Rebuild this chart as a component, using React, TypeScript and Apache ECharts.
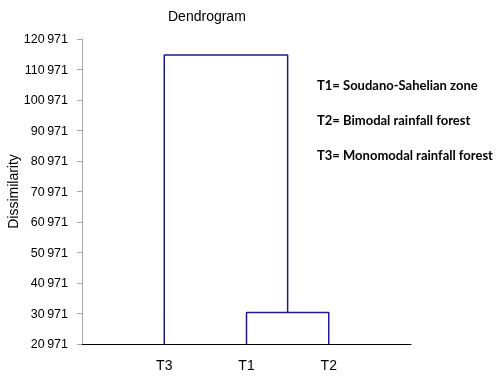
import React, { useEffect, useRef } from "react";
import * as echarts from "echarts";

const leaves = ["T3", "T1", "T2"];
const leafPositions = [1, 2, 3];
const baseline = 20971;
const mergeT1T2 = 31300;
const mergeAll = 115700;
const yTicks = [20971, 30971, 40971, 50971, 60971, 70971, 80971, 90971, 100971, 110971, 120971];
const legendLines = [
  "T1= Soudano-Sahelian zone",
  "T2= Bimodal rainfall forest",
  "T3= Monomodal rainfall forest",
];

function fmt(v: number): string {
  const s = String(Math.round(v));
  const head = s.slice(0, s.length - 3);
  const tail = s.slice(s.length - 3);
  return head + "\u2009" + tail;
}

export default function App() {
  const ref = useRef<HTMLDivElement>(null);
  useEffect(() => {
    if (!ref.current) return;
    const chart = echarts.init(ref.current, undefined, { renderer: "svg" });
    const xT3 = leafPositions[0];
    const xT1 = leafPositions[1];
    const xT2 = leafPositions[2];
    const xMid = (xT1 + xT2) / 2;
    const lineStyle = { color: "#1c1c8e", width: 1.5 };
    chart.setOption({
      animation: false,
      title: {
        text: "Dendrogram",
        left: 163,
        top: 4,
        textStyle: { fontFamily: "Liberation Sans", fontSize: 14, fontWeight: "normal", color: "#000" },
      },
      grid: { left: 82, right: 89, top: 39, bottom: 34, containLabel: false, outerBoundsMode: "none" },
      xAxis: {
        type: "value",
        min: 0,
        max: 4,
        interval: 1,
        splitLine: { show: false },
        axisTick: { show: false },
        axisLine: { lineStyle: { color: "#000", width: 1 } },
        axisLabel: {
          margin: 14,
          fontFamily: "Liberation Sans",
          fontSize: 14,
          color: "#000",
          formatter: (v: number) => {
            const i = leafPositions.indexOf(v);
            return i >= 0 ? leaves[i] : "";
          },
        },
      },
      yAxis: {
        type: "value",
        min: baseline,
        max: 120971,
        name: "Dissimilarity",
        nameLocation: "middle",
        nameGap: 62,
        nameMoveOverlap: false,
        nameTextStyle: { fontFamily: "Liberation Sans", fontSize: 14, color: "#000" },
        splitLine: { show: false },
        axisLine: { show: true, lineStyle: { color: "#a6a6a6", width: 1 } },
        axisTick: { show: true, length: 5, customValues: yTicks, lineStyle: { color: "#a6a6a6" } },
        axisLabel: {
          customValues: yTicks,
          margin: 14,
          fontFamily: "Liberation Sans",
          fontSize: 12.5,
          color: "#000",
          formatter: (v: number) => fmt(v),
        },
      },
      series: [
        {
          type: "line",
          symbol: "none",
          lineStyle,
          data: [
            [xT3, baseline],
            [xT3, mergeAll],
            [xMid, mergeAll],
            [xMid, mergeT1T2],
          ],
        },
        {
          type: "line",
          symbol: "none",
          lineStyle,
          data: [
            [xT1, baseline],
            [xT1, mergeT1T2],
            [xT2, mergeT1T2],
            [xT2, baseline],
          ],
        },
      ],
      graphic: legendLines.map((t, i) => ({
        type: "text",
        left: 317,
        top: 78 + i * 35,
        style: {
          text: t,
          fontFamily: "Lato",
          fontWeight: "bold",
          fontSize: 13,
          fill: "#000",
        },
      })),
    });
    return () => chart.dispose();
  }, []);
  return <div ref={ref} style={{ position: "fixed", left: 0, top: 0, width: 500, height: 378 }} />;
}
